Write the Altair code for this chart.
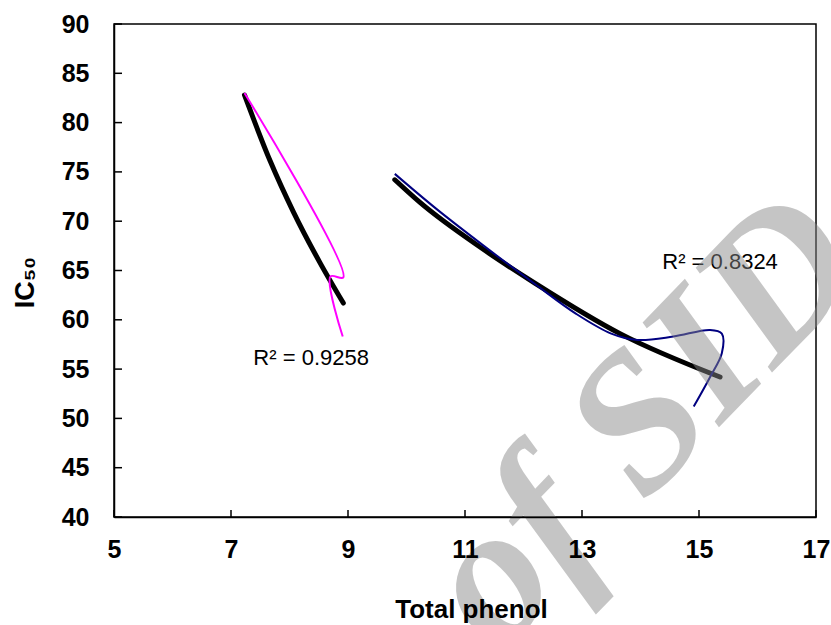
import altair as alt
import pandas as pd

# ---- data ----
x_ticks = [5, 7, 9, 11, 13, 15, 17]
y_ticks = [40, 45, 50, 55, 60, 65, 70, 75, 80, 85, 90]

# magenta smoothed series (in drawing order)
pink_x = [7.23, 8.92, 8.70, 8.91]
pink_y = [83.0, 64.3, 64.4, 58.3]

# navy smoothed series (in drawing order)
blue_x = [9.80, 10.5, 11.3, 12.2, 12.9, 13.5, 13.95, 14.56, 15.19, 15.39, 15.39, 15.19, 14.91]
blue_y = [74.8, 71.3, 67.6, 63.6, 60.6, 58.6, 57.95, 58.3, 58.97, 58.6, 56.6, 54.2, 51.2]

# black trend lines
trend1_x = [7.23, 7.67, 8.07, 8.52, 8.92]
trend1_y = [82.8, 76.1, 70.9, 65.8, 61.7]
trend2_x = [9.80, 10.23, 11.3, 12.2, 13.65, 15.36]
trend2_y = [74.2, 71.9, 67.2, 63.7, 58.6, 54.2]

labels_text = ["R\u00b2 = 0.9258", "R\u00b2 = 0.8324"]
labels_x = [8.37, 15.36]
labels_y = [56.1, 65.9]

W, H = 702, 493
FONT = "Liberation Sans"

pink = pd.DataFrame({"x": pink_x, "y": pink_y, "i": range(len(pink_x))})
blue = pd.DataFrame({"x": blue_x, "y": blue_y, "i": range(len(blue_x))})
t1 = pd.DataFrame({"x": trend1_x, "y": trend1_y})
t2 = pd.DataFrame({"x": trend2_x, "y": trend2_y})
lab = pd.DataFrame({"x": labels_x, "y": labels_y, "t": labels_text})
xt = pd.DataFrame({"x": x_ticks})
yt = pd.DataFrame({"y": y_ticks})

x_axis = alt.Axis(
    values=x_ticks, format="d", grid=False, ticks=False, tickSize=0,
    labelFont=FONT, labelFontSize=25, labelFontWeight="bold", labelColor="black",
    labelPadding=20, labelFlush=False, labelOverlap=False,
    domainColor="black", domainWidth=1.5,
    title="Total phenol", titleFont=FONT, titleFontSize=26, titleFontWeight="bold",
    titleColor="black", titleX=357, titleY=100, titleAlign="center",
    titleBaseline="alphabetic", zindex=1,
)
y_axis = alt.Axis(
    values=y_ticks, format="d", grid=False, ticks=False, tickSize=0,
    labelFont=FONT, labelFontSize=25, labelFontWeight="bold", labelColor="black",
    labelPadding=25, labelFlush=False, labelOverlap=False,
    domainColor="black", domainWidth=1.5,
    title="IC\u2085\u2080", titleFont=FONT, titleFontSize=27, titleFontWeight="bold",
    titleColor="black", titleX=-81, titleY=258, titleAngle=270, titleAlign="center",
    titleBaseline="alphabetic", zindex=1,
)
xs = alt.Scale(domain=[5, 17], nice=False, zero=False)
ys = alt.Scale(domain=[40, 90], nice=False, zero=False)


def X(f="x"):
    return alt.X(f + ":Q", scale=xs, axis=x_axis)


def Y(f="y"):
    return alt.Y(f + ":Q", scale=ys, axis=y_axis)


pink_line = alt.Chart(pink).mark_line(
    color="#FF00FF", strokeWidth=2, interpolate="catmull-rom"
).encode(x=X(), y=Y(), order="i:Q")

blue_line = alt.Chart(blue).mark_line(
    color="#000080", strokeWidth=2, interpolate="catmull-rom"
).encode(x=X(), y=Y(), order="i:Q")

trend1 = alt.Chart(t1).mark_line(
    color="black", strokeWidth=5, strokeCap="round", interpolate="monotone"
).encode(x=X(), y=Y())
trend2 = alt.Chart(t2).mark_line(
    color="black", strokeWidth=5, strokeCap="round", interpolate="monotone"
).encode(x=X(), y=Y())

texts = alt.Chart(lab).mark_text(
    font=FONT, fontSize=22, color="black", align="center", baseline="middle"
).encode(x=X(), y=Y(), text="t:N")

xticks = alt.Chart(xt).mark_rule(color="black", strokeWidth=1.5).encode(
    x=X(), y=alt.value(H), y2=alt.value(H - 7)
)
yticks = alt.Chart(yt).mark_rule(color="black", strokeWidth=1.5).encode(
    y=Y(), x=alt.value(0), x2=alt.value(8)
)

# grey "of SID" watermark lying over the chart
watermark = alt.Chart(pd.DataFrame({"t": ["of SID"]})).mark_text(
    font="Liberation Serif", fontSize=195, fontWeight="bold", fontStyle="italic",
    color="#888888", opacity=0.48, angle=314, align="center", baseline="middle",
).encode(x=alt.value(528), y=alt.value(398), text="t:N")

chart = alt.layer(
    xticks, yticks, trend1, trend2, pink_line, blue_line, texts, watermark
).properties(
    width=W, height=H,
    autosize=alt.AutoSizeParams(type="none"),
    padding={"left": 114, "top": 24, "right": 15, "bottom": 108},
    background="white",
).configure_view(stroke="black", strokeWidth=1.5)

chart.save("out.html", embed_options={"renderer": "svg", "actions": False})
